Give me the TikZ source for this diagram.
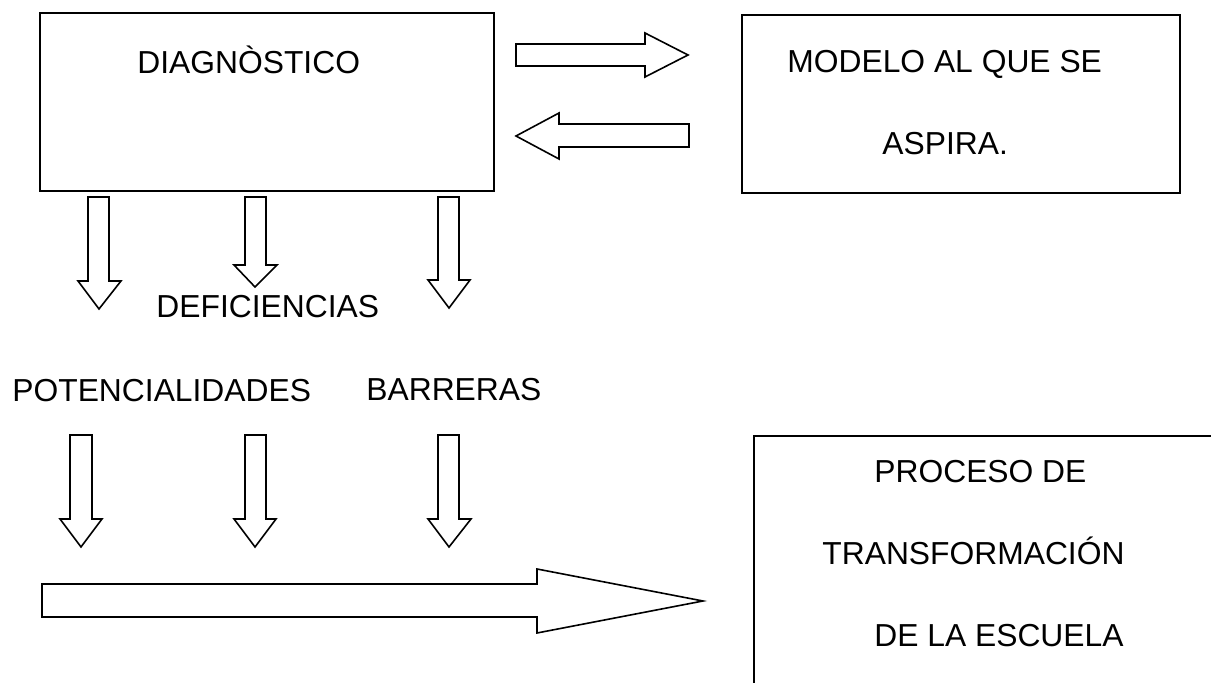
\documentclass[tikz,border=0pt]{standalone}
\usepackage{fontspec}
\setmainfont{Liberation Sans}
\begin{document}
\begin{tikzpicture}[x=0.5pt,y=-0.5pt,
  label/.style={inner sep=0pt,anchor=base west,font=\fontsize{15.9pt}{18pt}\selectfont},
  box/.style={draw=black,line width=1pt},
  blockarrow/.style={draw=black,fill=white,line width=0.8pt,line join=miter}]
\useasboundingbox (0,0) rectangle (1211,683);
\clip (0,0) rectangle (1211,683);

% Top boxes
\draw[box] (40,13) rectangle (494,191);
\node[label] (diag) at (137,74) {DIAGNÒSTICO};
\draw[box] (742,15) rectangle (1180,193);
\node[label] (modelo) at (787,73) {MODELO AL QUE SE};
\node[label] (aspira) at (882,155) {ASPIRA.};

% Arrows between the top boxes
\draw[blockarrow] (516,44) -- (645,44) -- (645,33) -- (688,55) -- (645,77) -- (645,66) -- (516,66) -- cycle;
\draw[blockarrow] (689,124) -- (559,124) -- (559,113) -- (516,136) -- (559,159) -- (559,147) -- (689,147) -- cycle;

% Arrows under the diagnosis
\draw[blockarrow] (88,197) -- (88,281) -- (78,281) -- (99,309) -- (121,281) -- (109,281) -- (109,197) -- cycle;
\draw[blockarrow] (245,197) -- (245,265) -- (234,265) -- (255,287) -- (277,265) -- (266,265) -- (266,197) -- cycle;
\draw[blockarrow] (438,197) -- (438,280) -- (428,280) -- (449,308) -- (470,280) -- (459,280) -- (459,197) -- cycle;
\node[label] (defic) at (156,318) {DEFICIENCIAS};

% Middle labels
\node[label] (poten) at (12,402) {POTENCIALIDADES};
\node[label] (barreras) at (366,401) {BARRERAS};

% Arrows under the labels
\draw[blockarrow] (70,435) -- (70,519) -- (60,519) -- (81,547) -- (102,519) -- (92,519) -- (92,435) -- cycle;
\draw[blockarrow] (245,435) -- (245,519) -- (234,519) -- (255,547) -- (276,519) -- (266,519) -- (266,435) -- cycle;
\draw[blockarrow] (438,435) -- (438,519) -- (428,519) -- (449,547) -- (471,519) -- (459,519) -- (459,435) -- cycle;

% The long arrow
\draw[blockarrow] (42,584) -- (537,584) -- (537,569) -- (703,601) -- (537,633) -- (537,617) -- (42,617) -- cycle;

% Box cut off at the corner
\draw[box] (754,436) rectangle (1240,720);
\node[label] (proceso) at (874,483) {PROCESO DE};
\node[label] (transf) at (822,565) {TRANSFORMACIÓN};
\node[label] (escuela) at (874,647) {DE LA ESCUELA};

\end{tikzpicture}
\end{document}
